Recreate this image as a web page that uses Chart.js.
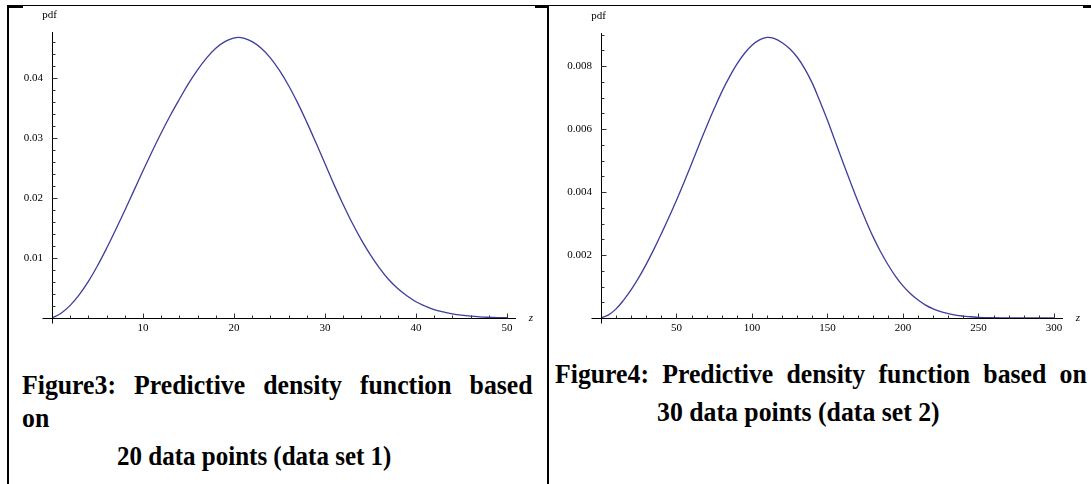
<!DOCTYPE html>
<html>
<head>
<meta charset="utf-8">
<script src="https://cdn.jsdelivr.net/npm/chart.js@4.4.1/dist/chart.umd.min.js"></script>
<style>
  body { margin: 0; background: #fff; width: 1091px; height: 484px; position: relative; overflow: hidden; font-family: "Liberation Serif", "DejaVu Serif", serif; }
  .rule { position: absolute; background: #000; }
  canvas { position: absolute; }
  .cap { position: absolute; font-weight: bold; font-size: 28px; line-height: 36px; white-space: nowrap; color: #000;
         transform: scaleX(0.92); transform-origin: 0 0; }
  .just { text-align: justify; text-align-last: justify; }
</style>
</head>
<body>
<!-- table borders -->
<div class="rule" style="left:8px;top:5px;width:1083px;height:1px"></div>
<div class="rule" style="left:8px;top:5px;width:15px;height:3px"></div>
<div class="rule" style="left:535px;top:5px;width:14px;height:3px"></div>
<div class="rule" style="left:1083px;top:5px;width:8px;height:3px"></div>
<div class="rule" style="left:7px;top:5px;width:2px;height:479px"></div>
<div class="rule" style="left:547px;top:5px;width:2px;height:479px"></div>

<canvas id="chart3" width="530" height="340" style="left:10px;top:5px"></canvas>
<canvas id="chart4" width="530" height="340" style="left:550px;top:5px"></canvas>

<div class="cap just" style="left:22px;top:367px;width:555px">Figure3: Predictive density function based</div>
<div class="cap" style="left:22px;top:400px">on</div>
<div class="cap" style="left:117px;top:438px;font-size:27.2px">20 data points (data set 1)</div>

<div class="cap just" style="left:555px;top:356px;width:578px">Figure4: Predictive density function based on</div>
<div class="cap" style="left:657px;top:394px">30 data points (data set 2)</div>

<script>
// data set 1
const leftZ = [0,1,2,3,4,5,6,7,8,9,10,11,12,13,14,15,16,17,18,19,20,20.5,21,22,23,24,25,
  26,27,28,29,30,31,32,33,34,35,36,37,38,39,40,41,42,43,44,45,46,47,48,49,50];
const leftPdf = [0,0.0008,0.0021,0.0039,0.0061,0.0087,0.0116,0.0147,0.0179,0.0212,0.0245,
  0.0277,0.0308,0.0337,0.0364,0.0390,0.0413,0.0433,0.0449,0.0460,0.0466,0.0467,
  0.0466,0.0460,0.0449,0.0433,0.0412,0.0387,0.0358,0.0326,0.0292,0.0257,
  0.0222,0.0189,0.0158,0.0130,0.0105,0.0083,0.0064,0.0049,0.0037,0.0027,
  0.0020,0.0014,0.0010,0.0007,0.00047,0.0003,0.00019,0.00012,0.00007,0.00004];
const leftXTicks = [10, 20, 30, 40, 50];
const leftYTicks = [0.01, 0.02, 0.03, 0.04];

// data set 2
const rightZ = [0,5,10,15,20,25,30,35,40,45,50,55,60,65,70,75,80,85,90,95,100,
  105,110,115,120,125,130,135,140,145,150,155,160,165,170,175,180,185,190,195,200,
  205,210,215,220,225,230,235,240,245,250,260,270,280,290,300];
const rightPdf = [0,0.0001,0.00029,0.00057,0.0009,0.00128,0.00171,0.00218,0.00268,0.0032,0.00374,
  0.00431,0.0049,0.0055,0.00609,0.00665,0.00718,0.00765,0.00806,0.0084,0.00866,
  0.00883,0.00891,0.00887,0.00874,0.00855,0.00828,0.00791,0.00745,0.00688,0.00628,
  0.00563,0.00498,0.00434,0.00372,0.00314,0.0026,0.00212,0.0017,0.00133,0.00102,
  0.00077,0.00057,0.00041,0.00029,0.0002,0.00014,0.00009,0.00006,0.00004,0.00002,
  0.00001,0.000005,0,0,0];
const rightXTicks = [50, 100, 150, 200, 250, 300];
const rightYTicks = [0.002, 0.004, 0.006, 0.008];

const curveColor = '#3d3d9c';
const tickFont = { family: 'Liberation Serif', size: 11 };

function findLabel(v, list) {
  const hit = list.find(t => Math.abs(t - v) < 1e-9 + Math.abs(t) * 1e-6);
  return hit === undefined ? '' : String(hit);
}

// mathematica-like axes: inward ticks, axes crossing at origin
const inwardTicks = {
  id: 'inwardTicks',
  afterDraw(chart, args, opts) {
    const ctx = chart.ctx;
    const xs = chart.scales.x, ys = chart.scales.y;
    const x0 = Math.round(xs.getPixelForValue(0)) + 0.5;
    const y0 = Math.round(ys.getPixelForValue(0)) + 0.5;
    ctx.save();
    ctx.strokeStyle = '#000';
    ctx.lineWidth = 1;
    ctx.beginPath();
    ctx.moveTo(x0 - 10, y0); ctx.lineTo(xs.right, y0);
    ctx.moveTo(x0, y0 + 5); ctx.lineTo(x0, ys.top);
    ctx.stroke();

    ctx.strokeStyle = '#333';
    ctx.beginPath();
    xs.ticks.forEach(t => {
      if (t.value === 0) return;
      const px = Math.round(xs.getPixelForValue(t.value)) + 0.5;
      const len = findLabel(t.value, opts.xMajor) ? 5 : 3;
      ctx.moveTo(px, y0); ctx.lineTo(px, y0 - len);
    });
    ys.ticks.forEach(t => {
      if (t.value === 0) return;
      const py = Math.round(ys.getPixelForValue(t.value)) + 0.5;
      const len = findLabel(t.value, opts.yMajor) ? 5 : 3;
      ctx.moveTo(x0, py); ctx.lineTo(x0 + len, py);
    });
    ctx.stroke();

    ctx.fillStyle = '#000';
    ctx.font = '11px "Liberation Serif"';
    ctx.textAlign = 'center';
    ctx.textBaseline = 'middle';
    ctx.fillText(opts.yTitle, x0 - 3, ys.top - 17);
    ctx.font = 'italic 11px "Liberation Serif"';
    ctx.fillText(opts.xTitle, xs.right + 15, y0);
    ctx.restore();
  }
};

function makeChart(id, zs, pdf, cfg) {
  return new Chart(document.getElementById(id), {
    type: 'line',
    data: {
      datasets: [{
        data: zs.map((z, i) => ({ x: z, y: pdf[i] })),
        borderColor: curveColor,
        borderWidth: 1.3,
        pointRadius: 0,
        fill: false,
        tension: 0.4
      }]
    },
    options: {
      responsive: false,
      animation: false,
      devicePixelRatio: 1,
      layout: { padding: { top: cfg.top, right: cfg.right, left: 0, bottom: 0 } },
      plugins: {
        legend: { display: false },
        tooltip: { enabled: false },
        inwardTicks: { xMajor: cfg.xLabels, yMajor: cfg.yLabels, xTitle: 'z', yTitle: 'pdf' }
      },
      scales: {
        x: {
          type: 'linear', min: 0, max: cfg.xMax,
          border: { display: false },
          grid: { display: false, drawTicks: false },
          ticks: {
            stepSize: cfg.xStep, autoSkip: false, includeBounds: false, maxRotation: 0,
            padding: 4, font: tickFont, color: '#000',
            callback: v => findLabel(v, cfg.xLabels)
          },
          afterFit: s => { s.height = 27; s.paddingLeft = 0; s.paddingRight = 0; }
        },
        y: {
          type: 'linear', min: 0, max: cfg.yMax,
          border: { display: false },
          grid: { display: false, drawTicks: false },
          ticks: {
            stepSize: cfg.yStep, autoSkip: false, includeBounds: false,
            padding: 9, font: tickFont, color: '#000',
            callback: v => findLabel(v, cfg.yLabels)
          },
          afterFit: s => { s.width = cfg.yWidth; s.paddingTop = 0; s.paddingBottom = 0; }
        }
      }
    },
    plugins: [inwardTicks]
  });
}

makeChart('chart3', leftZ, leftPdf, {
  xMax: 51, yMax: 0.0476, xStep: 2, yStep: 0.002,
  xLabels: leftXTicks, yLabels: leftYTicks, yWidth: 42, top: 27, right: 24
});
makeChart('chart4', rightZ, rightPdf, {
  xMax: 306, yMax: 0.00905, xStep: 10, yStep: 0.0005,
  xLabels: rightXTicks, yLabels: rightYTicks, yWidth: 51, top: 28, right: 17
});
</script>
</body>
</html>
